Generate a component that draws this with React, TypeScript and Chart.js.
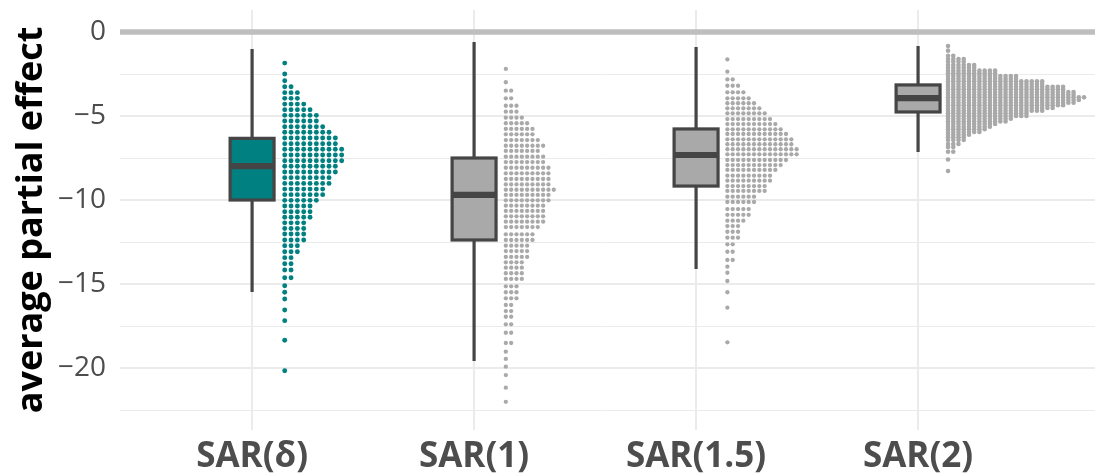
import React, { useEffect, useRef } from "react";
import { Chart, registerables } from "chart.js";

Chart.register(...registerables);

// ---------- data ----------
const categories = ["SAR(δ)", "SAR(1)", "SAR(1.5)", "SAR(2)"];

const yGridValues = [-22.5, -20, -17.5, -15, -12.5, -10, -7.5, -5, -2.5, 0];
const yTickLabels = ["", "−20", "", "−15", "", "−10", "", "−5", "", "0"];

// box plot statistics per category
const boxUpper = [-1.01, -0.6, -0.89, -0.83];
const boxQ3 = [-6.33, -7.5, -5.77, -3.15];
const boxMedian = [-7.98, -9.7, -7.32, -3.93];
const boxQ1 = [-10.0, -12.38, -9.17, -4.76];
const boxLower = [-15.48, -19.58, -14.1, -7.14];

// dot-plot rows: bin centre (y) and number of stacked dots
const sarDeltaRowY = [
  -1.85, -2.5, -2.9, -3.26, -3.61, -3.95, -4.29, -4.63, -4.96, -5.3, -5.64, -5.97,
  -6.31, -6.65, -6.98, -7.32, -7.66, -7.99, -8.33, -8.67, -9.01, -9.35, -9.68,
  -10.02, -10.36, -10.7, -11.03, -11.36, -11.7, -12.02, -12.38, -12.72, -13.08,
  -13.43, -13.79, -14.17, -14.63, -15.1, -15.49, -15.89, -16.55, -17.18, -18.35, -20.16,
];
const sarDeltaRowN = [
  1, 1, 1, 2, 3, 3, 4, 5, 6, 6, 7, 8,
  9, 9, 10, 10, 10, 9, 9, 8, 8, 7, 7,
  6, 5, 5, 5, 4, 4, 4, 4, 3, 3,
  2, 2, 2, 2, 1, 1, 1, 1, 1, 1, 1,
];

const sar1RowY = [
  -2.2, -2.99, -3.49, -3.95, -4.39, -4.74, -5.1, -5.43, -5.77, -6.09, -6.43, -6.77,
  -7.08, -7.42, -7.74, -8.08, -8.41, -8.75, -9.07, -9.39, -9.7, -10.02, -10.34,
  -10.65, -10.97, -11.29, -11.61, -12.04, -12.38, -12.72, -13.04, -13.39, -13.71,
  -14.03, -14.36, -14.7, -15.14, -15.49, -15.85, -16.25, -16.61, -16.95, -17.4,
  -17.9, -18.51, -19.03, -19.46, -19.92, -20.42, -21.17, -22.01,
];
const sar1RowN = [
  1, 1, 2, 2, 3, 3, 4, 5, 6, 6, 7, 8,
  7, 8, 8, 9, 9, 9, 9, 10, 9, 9, 8,
  8, 8, 8, 7, 6, 6, 5, 5, 5, 4,
  4, 4, 4, 3, 3, 3, 2, 2, 2, 2,
  2, 2, 1, 1, 1, 1, 1, 1,
];

const sar15RowY = [
  -1.63, -2.36, -2.82, -3.2, -3.59, -3.95, -4.24, -4.54, -4.84, -5.18, -5.48, -5.79,
  -6.07, -6.39, -6.68, -6.98, -7.28, -7.62, -7.92, -8.21, -8.55, -8.85, -9.17,
  -9.46, -9.8, -10.12, -10.54, -10.88, -11.23, -11.55, -11.89, -12.24, -12.64,
  -13.08, -13.57, -13.97, -14.33, -14.82, -15.49, -16.41, -18.47,
];
const sar15RowN = [
  1, 1, 2, 3, 4, 5, 6, 7, 8, 9, 10, 11,
  12, 13, 13, 14, 14, 12, 11, 10, 9, 9, 8,
  8, 6, 6, 5, 5, 4, 3, 3, 3, 2,
  2, 2, 1, 1, 1, 1, 1, 1,
];

const sar2RowY = [
  -0.83, -1.11, -1.41, -1.61, -1.77, -1.96, -2.13, -2.3, -2.46, -2.62, -2.78, -2.93,
  -3.1, -3.26, -3.41, -3.57, -3.73, -3.89, -4.05, -4.21, -4.36, -4.52, -4.68,
  -4.84, -5.0, -5.16, -5.32, -5.48, -5.64, -5.79, -5.95, -6.11, -6.27, -6.43,
  -6.67, -6.85, -7.13, -7.59, -8.27,
];
const sar2RowN = [
  1, 1, 2, 4, 4, 6, 6, 10, 10, 14, 14, 19,
  19, 23, 23, 25, 25, 27, 26, 25, 23, 21, 19,
  16, 16, 13, 12, 10, 9, 8, 7, 5, 4, 4,
  3, 2, 2, 1, 1,
];

// ---------- styles ----------
const TEAL = "#008080";
const GREY = "#A9A9A9";
const BOX_LINE = "#454545";
const X_MIN = 0.405;
const X_MAX = 4.797;
const Y_MIN = -23.69;
const Y_MAX = 1.31;
const BOX_HALF = 0.099;

const boxFill = [TEAL, GREY, GREY, GREY];

const dotStyles = [
  { color: TEAL, radius: 2.45, first: 0.147, step: 0.0285 },
  { color: GREY, radius: 2.15, first: 0.143, step: 0.024 },
  { color: GREY, radius: 2.15, first: 0.141, step: 0.024 },
  { color: GREY, radius: 2.3, first: 0.135, step: 0.02356 },
];
const dotRows = [
  [sarDeltaRowY, sarDeltaRowN],
  [sar1RowY, sar1RowN],
  [sar15RowY, sar15RowN],
  [sar2RowY, sar2RowN],
];

function buildDots(catIndex: number) {
  const [ys, ns] = dotRows[catIndex];
  const st = dotStyles[catIndex];
  const pts: { x: number; y: number }[] = [];
  ys.forEach((y, r) => {
    for (let k = 0; k < ns[r]; k++) {
      pts.push({ x: catIndex + 1 + st.first + k * st.step, y });
    }
  });
  return pts;
}

const boxPlugin = {
  id: "boxplots",
  beforeDatasetsDraw(chart: any) {
    const { ctx, scales } = chart;
    const x = scales.x;
    const y = scales.y;
    ctx.save();
    for (let i = 0; i < categories.length; i++) {
      const c = x.getPixelForValue(i + 1);
      const hw = x.getPixelForValue(i + 1 + BOX_HALF) - c;
      const pU = y.getPixelForValue(boxUpper[i]);
      const pQ3 = y.getPixelForValue(boxQ3[i]);
      const pM = y.getPixelForValue(boxMedian[i]);
      const pQ1 = y.getPixelForValue(boxQ1[i]);
      const pL = y.getPixelForValue(boxLower[i]);
      ctx.strokeStyle = BOX_LINE;
      ctx.lineCap = "butt";
      ctx.lineJoin = "miter";
      ctx.lineWidth = 3.2;
      ctx.beginPath();
      ctx.moveTo(c, pU);
      ctx.lineTo(c, pQ3);
      ctx.moveTo(c, pQ1);
      ctx.lineTo(c, pL);
      ctx.stroke();
      ctx.fillStyle = boxFill[i];
      ctx.fillRect(c - hw, pQ3, 2 * hw, pQ1 - pQ3);
      ctx.strokeRect(c - hw, pQ3, 2 * hw, pQ1 - pQ3);
      ctx.lineWidth = 6.2;
      ctx.beginPath();
      ctx.moveTo(c - hw, pM);
      ctx.lineTo(c + hw, pM);
      ctx.stroke();
    }
    ctx.restore();
  },
};

export default function App() {
  const ref = useRef<HTMLCanvasElement | null>(null);

  useEffect(() => {
    if (!ref.current) return;
    Chart.defaults.font.family = "'Open Sans', 'Noto Sans', sans-serif";

    const datasets: any[] = categories.map((name, i) => ({
      type: "scatter",
      label: name,
      data: buildDots(i),
      backgroundColor: dotStyles[i].color,
      borderWidth: 0,
      pointRadius: dotStyles[i].radius,
      pointHoverRadius: dotStyles[i].radius,
    }));
    datasets.push({
      type: "line",
      label: "zero",
      data: [
        { x: X_MIN, y: 0 },
        { x: X_MAX, y: 0 },
      ],
      borderColor: "#BEBEBE",
      borderWidth: 5.5,
      pointRadius: 0,
    });

    const chart = new Chart(ref.current, {
      type: "scatter",
      data: { datasets },
      plugins: [boxPlugin],
      options: {
        animation: false,
        responsive: true,
        maintainAspectRatio: false,
        devicePixelRatio: 1,
        events: [],
        layout: { padding: { top: 10, right: 9, left: 0, bottom: 0 } },
        plugins: {
          legend: { display: false },
          tooltip: { enabled: false },
        },
        scales: {
          x: {
            type: "linear",
            min: X_MIN,
            max: X_MAX,
            afterBuildTicks: (s: any) => {
              s.ticks = categories.map((_, i) => ({ value: i + 1 }));
            },
            afterFit: (s: any) => {
              s.height = 43;
              s.paddingLeft = 0;
              s.paddingRight = 0;
            },
            ticks: {
              autoSkip: false,
              maxRotation: 0,
              padding: 6,
              color: "#4D4D4D",
              font: { size: 35, weight: "bold" },
              callback: (_v: any, i: number) => categories[i],
            },
            grid: { color: "#EBEBEB", lineWidth: 2, drawTicks: false },
            border: { display: false },
          },
          y: {
            type: "linear",
            min: Y_MIN,
            max: Y_MAX,
            afterBuildTicks: (s: any) => {
              s.ticks = yGridValues.map((v) => ({ value: v }));
            },
            afterFit: (s: any) => {
              s.width = 120;
              s.paddingTop = 0;
              s.paddingBottom = 0;
            },
            ticks: {
              autoSkip: false,
              padding: 14,
              color: "#4D4D4D",
              font: { size: 28 },
              callback: (_v: any, i: number) => yTickLabels[i],
            },
            grid: {
              color: "#EBEBEB",
              drawTicks: false,
              lineWidth: (ctx: any) =>
                ctx.tick && Math.abs(ctx.tick.value % 5) < 1e-6 ? 2 : 1,
            },
            border: { display: false },
            title: {
              display: true,
              text: "average partial effect",
              color: "#000000",
              font: { size: 36, weight: "bold", lineHeight: 1.2 },
              padding: { top: 10, bottom: 0 },
            },
          },
        },
      },
    });
    return () => chart.destroy();
  }, []);

  return (
    <div style={{ position: "fixed", left: 0, top: 0, width: "1104px", height: "473px" }}>
      <canvas ref={ref} />
    </div>
  );
}
